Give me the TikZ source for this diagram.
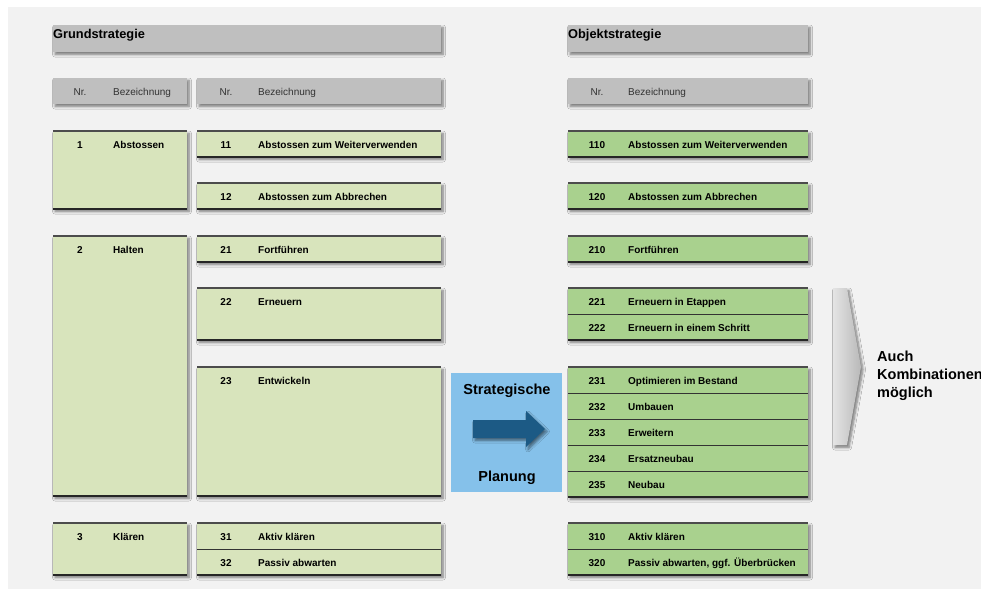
\documentclass[tikz,border=0pt]{standalone}
\usepackage{fontspec}
\setmainfont{Liberation Sans}
\usetikzlibrary{shadows.blur}
\definecolor{lgreen}{HTML}{D8E4BC}
\definecolor{mgreen}{HTML}{A9D18E}
\definecolor{hgray}{HTML}{BFBFBF}
\definecolor{bgray}{HTML}{F2F2F2}
\definecolor{pblue}{HTML}{85C1EA}
\definecolor{dblue}{HTML}{1C5A85}
\definecolor{chev}{HTML}{D9D9D9}
\tikzset{
  shd/.style={blur shadow={shadow xshift=2pt,shadow yshift=-2.5pt,shadow blur radius=2.5pt,shadow blur steps=6,shadow opacity=50}},
  cellshape/.style={shd},
  topline/.style={draw=black!70,line width=1.1pt},
  botline/.style={draw=black!85,line width=1.1pt},
  sepline/.style={draw=black!80,line width=0.9pt},
  num/.style={inner sep=0pt,font=\bfseries\fontsize{10}{12}\selectfont,text=black,anchor=base,yshift=-3.6pt},
  lbl/.style={inner sep=0pt,font=\bfseries\fontsize{10}{12}\selectfont,text=black,anchor=base west,yshift=-3.6pt},
  hnum/.style={inner sep=0pt,font=\fontsize{10}{12}\selectfont,text=black!80,anchor=base,yshift=-3.6pt},
  hlbl/.style={inner sep=0pt,font=\fontsize{10}{12}\selectfont,text=black!80,anchor=base west,yshift=-3.6pt},
  title/.style={inner sep=0pt,font=\bfseries\fontsize{12.8}{15}\selectfont,text=black,anchor=base west,yshift=-4.6pt},
  big/.style={inner sep=0pt,font=\bfseries\fontsize{14.5}{17}\selectfont,text=black,anchor=base,yshift=-5.2pt},
  bigw/.style={big,anchor=base west},
}
\newcommand\gcell[5]{%
  \path[cellshape,fill=#5] (#1,#2) rectangle (#3,#4);
  \draw[topline] (#1,#2) -- (#3,#2);
  \draw[botline] (#1,#4) -- (#3,#4);
}
\newcommand\hcell[4]{%
  \path[cellshape,fill=hgray] (#1,#2) rectangle (#3,#4);
}
\newcommand\sep[3]{\draw[sepline] (#1,#3) -- (#2,#3);}
\begin{document}
\begin{tikzpicture}[x=1pt,y=-1pt]
\useasboundingbox (0,0) rectangle (981,589);
\clip (0,0) rectangle (981,589);
\fill[white] (0,0) rectangle (981,589);
\fill[bgray] (8,7) rectangle (981,589);

% titles
\hcell{53}{25}{441}{52}
\node[title] (tgrund) at (53,34.2) {Grundstrategie};
\hcell{568}{25}{808}{52}
\node[title] (tobj) at (568,34.2) {Objektstrategie};

% header row
\hcell{53}{78}{187}{104}
\node[hnum] (hn1) at (80,91.5) {Nr.};
\node[hlbl] (hb1) at (113,91.5) {Bezeichnung};
\hcell{197}{78}{441}{104}
\node[hnum] (hn2) at (226,91.5) {Nr.};
\node[hlbl] (hb2) at (258,91.5) {Bezeichnung};
\hcell{568}{78}{808}{104}
\node[hnum] (hn3) at (597,91.5) {Nr.};
\node[hlbl] (hb3) at (628,91.5) {Bezeichnung};

% left column
\gcell{53}{131}{187}{209}{lgreen}
\node[num] (n1) at (80,144.5) {1};
\node[lbl] (l1) at (113,144.5) {Abstossen};
\gcell{53}{236}{187}{496}{lgreen}
\node[num] (n2) at (80,249.5) {2};
\node[lbl] (l2) at (113,249.5) {Halten};
\gcell{53}{523}{187}{575}{lgreen}
\node[num] (n3) at (80,536.5) {3};
\node[lbl] (l3) at (113,536.5) {Klären};

% middle column
\gcell{197}{131}{441}{157}{lgreen}
\node[num] (n11) at (226,144.5) {11};
\node[lbl] (l11) at (258,144.5) {Abstossen zum Weiterverwenden};
\gcell{197}{183}{441}{209}{lgreen}
\node[num] (n12) at (226,196.5) {12};
\node[lbl] (l12) at (258,196.5) {Abstossen zum Abbrechen};
\gcell{197}{236}{441}{262}{lgreen}
\node[num] (n21) at (226,249.5) {21};
\node[lbl] (l21) at (258,249.5) {Fortführen};
\gcell{197}{288}{441}{340}{lgreen}
\node[num] (n22) at (226,301.5) {22};
\node[lbl] (l22) at (258,301.5) {Erneuern};
\gcell{197}{367}{441}{496}{lgreen}
\node[num] (n23) at (226,380.5) {23};
\node[lbl] (l23) at (258,380.5) {Entwickeln};
\gcell{197}{523}{441}{575}{lgreen}
\sep{197}{441}{549}
\node[num] (n31) at (226,536.5) {31};
\node[lbl] (l31) at (258,536.5) {Aktiv klären};
\node[num] (n32) at (226,562.5) {32};
\node[lbl] (l32) at (258,562.5) {Passiv abwarten};

% right column
\gcell{568}{131}{808}{157}{mgreen}
\node[num] (n110) at (597,144.5) {110};
\node[lbl] (l110) at (628,144.5) {Abstossen zum Weiterverwenden};
\gcell{568}{183}{808}{209}{mgreen}
\node[num] (n120) at (597,196.5) {120};
\node[lbl] (l120) at (628,196.5) {Abstossen zum Abbrechen};
\gcell{568}{236}{808}{262}{mgreen}
\node[num] (n210) at (597,249.5) {210};
\node[lbl] (l210) at (628,249.5) {Fortführen};
\gcell{568}{288}{808}{340}{mgreen}
\sep{568}{808}{314}
\node[num] (n221) at (597,301.5) {221};
\node[lbl] (l221) at (628,301.5) {Erneuern in Etappen};
\node[num] (n222) at (597,327.5) {222};
\node[lbl] (l222) at (628,327.5) {Erneuern in einem Schritt};
\gcell{568}{367}{808}{497}{mgreen}
\sep{568}{808}{393}
\sep{568}{808}{419}
\sep{568}{808}{445}
\sep{568}{808}{471}
\node[num] (n231) at (597,380.5) {231};
\node[lbl] (l231) at (628,380.5) {Optimieren im Bestand};
\node[num] (n232) at (597,406.5) {232};
\node[lbl] (l232) at (628,406.5) {Umbauen};
\node[num] (n233) at (597,432.5) {233};
\node[lbl] (l233) at (628,432.5) {Erweitern};
\node[num] (n234) at (597,458.5) {234};
\node[lbl] (l234) at (628,458.5) {Ersatzneubau};
\node[num] (n235) at (597,484.5) {235};
\node[lbl] (l235) at (628,484.5) {Neubau};
\gcell{568}{523}{808}{575}{mgreen}
\sep{568}{808}{549}
\node[num] (n310) at (597,536.5) {310};
\node[lbl] (l310) at (628,536.5) {Aktiv klären};
\node[num] (n320) at (597,562.5) {320};
\node[lbl] (l320) at (628,562.5) {Passiv abwarten, ggf. Überbrücken};

% strategic planning box
\fill[pblue] (451,373) rectangle (562,492);
\node[big] (tstrat) at (507,388.8) {Strategische};
\node[big] (tplan) at (507,476.3) {Planung};
\path[fill=dblue,shd] (473,420) -- (526,420) -- (526,411) -- (545,429) -- (526,447) -- (526,438) -- (473,438) -- cycle;

% chevron
\path[shd,left color=chev!70!white,right color=chev!85!black] (833,288) -- (847,288) -- (861,367) -- (847,445) -- (833,445) -- cycle;
\node[bigw] (tauch) at (877,356.7) {Auch};
\node[bigw] (tkomb) at (877,374.7) {Kombinationen};
\node[bigw] (tmog) at (877,392.7) {möglich};
\end{tikzpicture}
\end{document}
